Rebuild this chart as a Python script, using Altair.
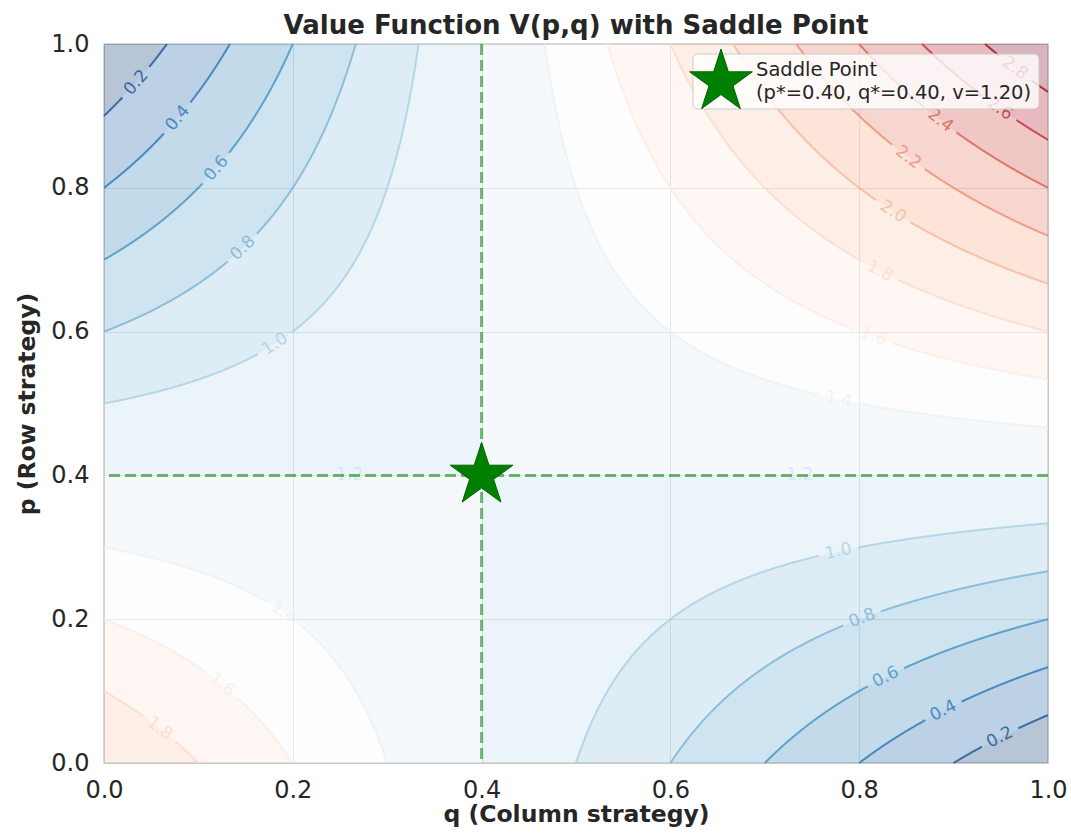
import math
import numpy as np
import pandas as pd
import altair as alt

# ------------------------------------------------------------------ data
P_STAR = 0.40          # row player's equilibrium probability
Q_STAR = 0.40          # column player's equilibrium probability
V_STAR = 1.20          # value of the game at the saddle point
CROSS = 5.0            # V(p,q) = v + CROSS*(p-p*)*(q-q*)

FILL_LEVELS = [0.0, 0.2, 0.4, 0.6, 0.8, 1.0, 1.2, 1.4, 1.6, 1.8, 2.0, 2.2, 2.4, 2.6, 2.8, 3.0]
LINE_LEVELS = [0.2, 0.4, 0.6, 0.8, 1.0, 1.4, 1.6, 1.8, 2.0, 2.2, 2.4, 2.6, 2.8]

# contour labels: level and the q position along that contour branch
LABEL_LEVEL = [0.2, 0.4, 0.6, 0.8, 1.0,
               1.4, 1.6, 1.8, 2.0, 2.2, 2.4, 2.6, 2.8,
               1.0, 0.8, 0.6, 0.4, 0.2,
               1.4, 1.6, 1.8]
LABEL_Q = [0.034, 0.078, 0.119, 0.147, 0.181,
           0.778, 0.815, 0.822, 0.836, 0.852, 0.886, 0.949, 0.965,
           0.778, 0.803, 0.828, 0.889, 0.949,
           0.190, 0.125, 0.059]
FLAT_LABEL_Q = [0.26, 0.737]   # labels of the v level along p = p*

TICKS = [0.0, 0.2, 0.4, 0.6, 0.8, 1.0]
TITLE = "Value Function V(p,q) with Saddle Point"
X_TITLE = "q (Column strategy)"
Y_TITLE = "p (Row strategy)"
LEGEND_NAME = "Saddle Point"
LEGEND_DETAIL = f"(p*={P_STAR:.2f}, q*={Q_STAR:.2f}, v={V_STAR:.2f})"

# ------------------------------------------------------------------ styling helpers
W, H = 944, 719
FONT = "DejaVu Sans"
INK = "#262626"
RDBU_R = ["#053061", "#2166ac", "#4393c3", "#92c5de", "#d1e5f0", "#f7f7f7",
          "#fddbc7", "#f4a582", "#d6604d", "#b2182b", "#67001f"]
VMIN, VMAX = FILL_LEVELS[0], FILL_LEVELS[-1]


def cmap(t):
    t = min(max(t, 0.0), 1.0) * (len(RDBU_R) - 1)
    i = min(int(t), len(RDBU_R) - 2)
    f = t - i
    a = [int(RDBU_R[i][j:j + 2], 16) for j in (1, 3, 5)]
    b = [int(RDBU_R[i + 1][j:j + 2], 16) for j in (1, 3, 5)]
    return "#%02x%02x%02x" % tuple(int(round(x + (y - x) * f)) for x, y in zip(a, b))


def norm(c):
    return (c - VMIN) / (VMAX - VMIN)


def p_on(c, q):
    return P_STAR + (c - V_STAR) / (CROSS * (np.asarray(q, dtype=float) - Q_STAR))


def q_on(c, p):
    return Q_STAR + (c - V_STAR) / (CROSS * (np.asarray(p, dtype=float) - P_STAR))


def star_path(inner=0.381966):
    pts = []
    for i in range(10):
        r = 1.0 if i % 2 == 0 else inner
        a = math.radians(-90 + 36 * i)
        pts.append((r * math.cos(a), r * math.sin(a)))
    return "M" + " L".join(f"{x:.4f},{y:.4f}" for x, y in pts) + " Z"


STAR = star_path()
STAR_SIZE = 4356

# ------------------------------------------------------------------ filled bands
band_rows = []
base_q = np.linspace(0, 1, 601)
p_grid = np.linspace(0, 1, 241)
p_grid = p_grid[np.abs(p_grid - P_STAR) > 1e-9]
for i in range(len(FILL_LEVELS) - 1):
    lo, hi = FILL_LEVELS[i], FILL_LEVELS[i + 1]
    qs = list(base_q) + [Q_STAR - 1e-5, Q_STAR + 1e-5]
    for c in (lo, hi):
        if abs(c - V_STAR) > 1e-9:
            qq = q_on(c, p_grid)
            qs += list(qq[(qq >= 0) & (qq <= 1)])
    qs = np.unique(np.round(np.array(qs), 6))
    qs = qs[np.abs(qs - Q_STAR) > 1e-7]
    pa, pb = p_on(lo, qs), p_on(hi, qs)
    y1 = np.clip(np.minimum(pa, pb), 0, 1)
    y2 = np.clip(np.maximum(pa, pb), 0, 1)
    nz = (y2 - y1) > 1e-9
    keep = nz.copy()
    keep[1:] |= nz[:-1]
    keep[:-1] |= nz[1:]
    col = cmap(norm((lo + hi) / 2))
    for q, a, b in zip(qs[keep], y1[keep], y2[keep]):
        band_rows.append({"band": i, "q": round(float(q), 5), "p_lo": round(float(a), 5),
                          "p_hi": round(float(b), 5), "color": col})
df_band = pd.DataFrame(band_rows)

# ------------------------------------------------------------------ labels
label_rows = []
for c, q in zip(LABEL_LEVEL, LABEL_Q):
    p = float(p_on(c, q))
    dpdq = -(c - V_STAR) / (CROSS * (q - Q_STAR) ** 2)
    ang = math.degrees(math.atan2(-H * dpdq, W)) % 360
    label_rows.append({"q": q, "p": p, "ang": ang, "txt": f"{c:.1f}", "color": cmap(norm(c))})
for q in FLAT_LABEL_Q:
    label_rows.append({"q": q, "p": P_STAR, "ang": 0.0, "txt": f"{V_STAR:.1f}",
                       "color": cmap(norm(V_STAR))})
df_lab = pd.DataFrame(label_rows)

# ------------------------------------------------------------------ contour lines
GAP = 20.0
line_rows = []
seg = 0
dense_q = np.linspace(0, 1, 2001)
for c in LINE_LEVELS:
    labs = [((q) * W, (1 - float(p_on(c, q))) * H) for lc, q in zip(LABEL_LEVEL, LABEL_Q)
            if abs(lc - c) < 1e-9]
    for side in (-1, 1):
        qs = list(dense_q[side * (dense_q - Q_STAR) > 1e-6])
        qq = q_on(c, p_grid)
        qs += list(qq[(qq >= 0) & (qq <= 1) & (side * (qq - Q_STAR) > 0)])
        for pe in (0.0, 1.0):
            qe = float(q_on(c, pe))
            if 0 <= qe <= 1 and side * (qe - Q_STAR) > 0:
                qs.append(qe)
        qs = np.unique(np.array(qs))
        ps = p_on(c, qs)
        ok = (ps >= -1e-9) & (ps <= 1 + 1e-9)
        qs, ps = qs[ok], np.clip(ps[ok], 0, 1)
        if len(qs) < 2:
            continue
        prev = False
        for q, p in zip(qs, ps):
            x, y = q * W, (1 - p) * H
            vis = all((x - lx) ** 2 + (y - ly) ** 2 > GAP ** 2 for lx, ly in labs)
            if vis and not prev:
                seg += 1
            if vis:
                line_rows.append({"seg": seg, "q": round(float(q), 5), "p": round(float(p), 5),
                                  "color": cmap(norm(c))})
            prev = vis
df_line = pd.DataFrame(line_rows)

df_saddle = pd.DataFrame({"q": [Q_STAR], "p": [P_STAR]})
df_one = pd.DataFrame({"k": [0]})

# ------------------------------------------------------------------ encodings
xs = alt.Scale(domain=[0, 1], nice=False, zero=False)
ys = alt.Scale(domain=[0, 1], nice=False, zero=False)
x_axis = alt.Axis(values=TICKS, format=".1f", title=X_TITLE, labelFlush=False,
                  ticks=False, tickSize=0, domain=False, labelPadding=15,
                  titleX=W / 2, titleY=58, titleBaseline="alphabetic", titleAlign="center")
y_axis = alt.Axis(values=TICKS, format=".1f", title=Y_TITLE, labelFlush=False,
                  ticks=False, tickSize=0, domain=False, labelPadding=15,
                  titleX=-70, titleY=H / 2, titleAngle=270, titleBaseline="alphabetic",
                  titleAlign="center")


def X(f):
    return alt.X(f"{f}:Q", scale=xs, axis=x_axis)


def Y(f):
    return alt.Y(f"{f}:Q", scale=ys, axis=y_axis)


bands = alt.Chart(df_band).mark_area(opacity=0.3, interpolate="linear").encode(
    x=X("q"), y=Y("p_lo"), y2="p_hi",
    color=alt.Color("color:N", scale=None), detail="band:N")

lines = alt.Chart(df_line).mark_line(strokeWidth=2, opacity=0.8).encode(
    x=X("q"), y=Y("p"), color=alt.Color("color:N", scale=None), detail="seg:N")

labels = alt.Chart(df_lab).mark_text(font=FONT, fontSize=17, opacity=0.8,
                                     align="center", baseline="middle").encode(
    x=X("q"), y=Y("p"), text="txt:N", angle=alt.Angle("ang:Q", scale=None),
    color=alt.Color("color:N", scale=None))

vrule = alt.Chart(df_saddle).mark_rule(color="#008000", opacity=0.55, strokeWidth=3,
                                       strokeDash=[11, 5]).encode(x=X("q"))
hrule = alt.Chart(df_saddle).mark_rule(color="#008000", opacity=0.55, strokeWidth=3,
                                       strokeDash=[11, 5]).encode(y=Y("p"))
star = alt.Chart(df_saddle).mark_point(shape=STAR, size=STAR_SIZE, filled=True,
                                       color="#008000", stroke="#006400", strokeWidth=1,
                                       opacity=1).encode(x=X("q"), y=Y("p"))

leg_box = alt.Chart(df_one).mark_rect(fill="white", fillOpacity=0.8, stroke="#cccccc",
                                      strokeWidth=1, cornerRadius=5).encode(
    x=alt.value(589), x2=alt.value(935), y=alt.value(10), y2=alt.value(65))
leg_star = alt.Chart(df_one).mark_point(shape=STAR, size=STAR_SIZE, filled=True,
                                        color="#008000", stroke="#006400", strokeWidth=1,
                                        opacity=1).encode(x=alt.value(617), y=alt.value(38))
leg_t1 = alt.Chart(df_one).mark_text(font=FONT, fontSize=19.5, color=INK, align="left",
                                     baseline="alphabetic").encode(
    x=alt.value(652), y=alt.value(32), text=alt.value(LEGEND_NAME))
leg_t2 = alt.Chart(df_one).mark_text(font=FONT, fontSize=19.5, color=INK, align="left",
                                     baseline="alphabetic").encode(
    x=alt.value(652), y=alt.value(55), text=alt.value(LEGEND_DETAIL))

chart = alt.layer(bands, lines, labels, vrule, hrule, star,
                  leg_box, leg_star, leg_t1, leg_t2).properties(
    width=W, height=H,
    title=alt.TitleParams(TITLE, font=FONT, fontSize=26, fontWeight="bold", color=INK,
                          anchor="middle", frame="group", baseline="alphabetic", offset=-28),
    autosize=alt.AutoSizeParams(type="none"),
    padding={"left": 104, "top": 44, "right": 23, "bottom": 75},
    background="white",
).configure_view(stroke="#cccccc", strokeWidth=1.5).configure_axis(
    labelFont=FONT, titleFont=FONT, labelFontSize=24, titleFontSize=23.5,
    labelColor=INK, titleColor=INK, titleFontWeight="bold",
    gridColor="#b0b0b0", gridOpacity=0.35, gridWidth=1)

chart.save("out.html", embed_options={"renderer": "svg", "actions": False})
